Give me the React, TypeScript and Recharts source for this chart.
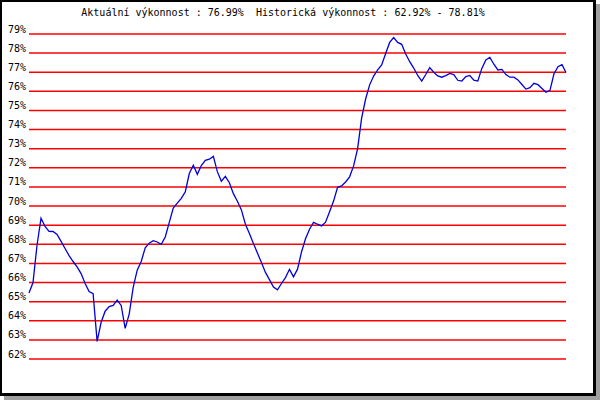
import React from 'react'
import { CartesianGrid, Line, LineChart, XAxis, YAxis } from 'recharts'

// výkonnost v %, jeden bod na období
const performance = [
  65.45, 66.0, 67.95, 69.37, 68.93, 68.68, 68.67, 68.51, 68.15, 67.78,
  67.41, 67.1, 66.82, 66.47, 65.95, 65.53, 65.42, 62.92, 63.92, 64.5,
  64.74, 64.8, 65.08, 64.8, 63.6, 64.35, 65.75, 66.65, 67.1, 67.82,
  68.06, 68.19, 68.12, 68.0, 68.38, 69.15, 69.89, 70.15, 70.4, 70.75,
  71.7, 72.13, 71.66, 72.12, 72.39, 72.45, 72.6, 71.8, 71.3, 71.55,
  71.22, 70.65, 70.25, 69.8, 69.05, 68.57, 68.04, 67.54, 67.05, 66.53,
  66.15, 65.76, 65.62, 65.95, 66.26, 66.69, 66.3, 66.7, 67.6, 68.29,
  68.79, 69.15, 69.05, 68.96, 69.16, 69.7, 70.26, 70.98, 71.05, 71.26,
  71.53, 72.1, 73.0, 74.6, 75.6, 76.34, 76.8, 77.12, 77.38, 77.98,
  78.56, 78.81, 78.56, 78.46, 77.95, 77.55, 77.22, 76.83, 76.54, 76.88,
  77.24, 77.0, 76.81, 76.74, 76.82, 76.94, 76.88, 76.58, 76.54, 76.77,
  76.83, 76.59, 76.54, 77.2, 77.64, 77.78, 77.42, 77.12, 77.15, 76.88,
  76.74, 76.74, 76.6, 76.36, 76.12, 76.19, 76.42, 76.35, 76.15, 75.95,
  76.05, 76.92, 77.29, 77.4, 76.99,
]

const yTicks = [62, 63, 64, 65, 66, 67, 68, 69, 70, 71, 72, 73, 74, 75, 76, 77, 78, 79]

const current = 76.99
const histMin = 62.92
const histMax = 78.81

const data = performance.map((value, i) => ({ i, value }))

const mono = '"DejaVu Sans Mono", "Liberation Mono", monospace'

function PercentTick(props: any) {
  const { x, y, payload } = props
  return (
    <text x={x} y={y - 5} dy="0.355em" textAnchor="end" fontFamily={mono} fontSize={10} fill="#000">
      {`${payload.value}%`}
    </text>
  )
}

export default function App() {
  const title = `Aktuální výkonnost : ${current.toFixed(2)}%  Historická výkonnost : ${histMin.toFixed(2)}% - ${histMax.toFixed(2)}%`

  return (
    <div style={{ position: 'relative', width: 600, height: 400 }}>
      <style>{'body{margin:0}'}</style>
      <div
        style={{
          position: 'absolute',
          left: 0,
          top: 0,
          width: 596,
          height: 396,
          boxSizing: 'border-box',
          background: '#fff',
          borderStyle: 'solid',
          borderColor: '#000',
          borderWidth: '2px 3px 3px 2px',
          boxShadow: '4px 4px 0 #a0a0a0',
        }}
      />
      <div
        style={{
          position: 'absolute',
          left: 0,
          top: 7,
          width: 566,
          textAlign: 'center',
          whiteSpace: 'pre',
          fontFamily: mono,
          fontSize: 10,
          lineHeight: '12px',
          color: '#000',
        }}
      >
        {title}
      </div>
      <div style={{ position: 'absolute', left: 0, top: 0 }}>
        <LineChart width={600} height={400} data={data} margin={{ top: 34, right: 34, bottom: 41, left: 0 }}>
          <CartesianGrid vertical={false} stroke="#ff0000" strokeWidth={1.5} />
          <XAxis dataKey="i" type="number" domain={['dataMin', 'dataMax']} hide />
          <YAxis
            width={29}
            domain={[62, 79]}
            ticks={yTicks}
            interval={0}
            axisLine={false}
            tickLine={false}
            tickSize={0}
            tickMargin={3}
            tick={<PercentTick />}
          />
          <Line
            type="linear"
            dataKey="value"
            stroke="#0000dd"
            strokeWidth={1.3}
            dot={false}
            isAnimationActive={false}
          />
        </LineChart>
      </div>
    </div>
  )
}
